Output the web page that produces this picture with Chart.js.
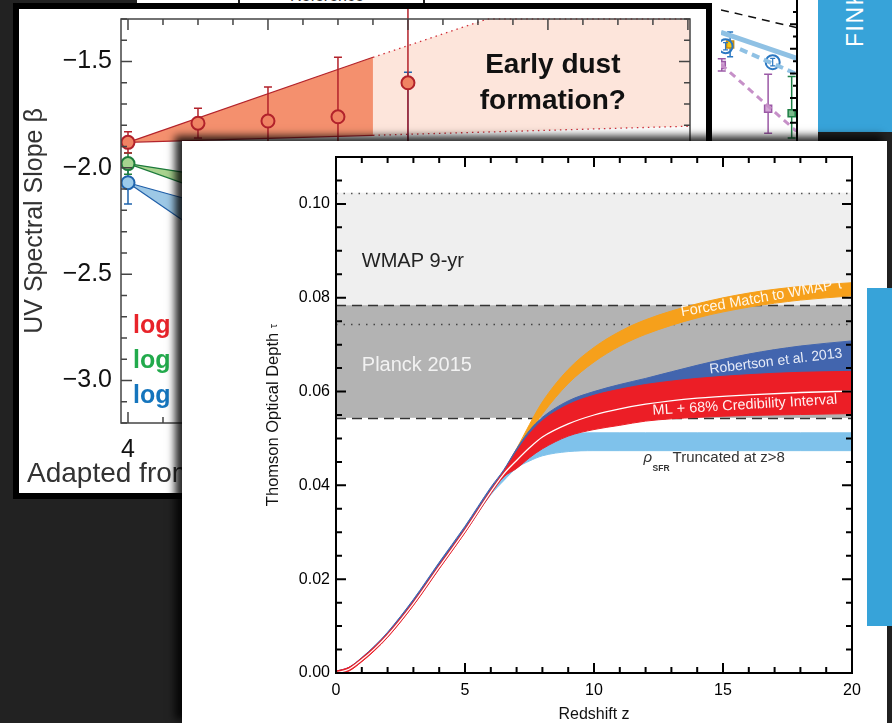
<!DOCTYPE html>
<html>
<head>
<meta charset="utf-8">
<script src="https://cdn.jsdelivr.net/npm/chart.js@4.4.0/dist/chart.umd.min.js"></script>
<style>
  html, body { margin: 0; padding: 0; }
  body { width: 892px; height: 723px; background: #222; position: relative; overflow: hidden;
         font-family: 'Liberation Sans', Arial, Helvetica, sans-serif; }
  .abs { position: absolute; }
  #strip { left: 137px; top: 0; width: 575px; height: 4px; background: #fff; overflow: hidden; }
  #strip i { position: absolute; top: 0; width: 2px; height: 4px; background: #222; }
  #strip b { position: absolute; top: -13px; font: 16px 'Liberation Sans', Arial, sans-serif; color: #333; }
  #side { left: 712px; top: 0; background: #fff; }
  #back { left: 13px; top: 3px; width: 699px; height: 496px; box-sizing: border-box;
          border: 6px solid #000; background: #fff; }
  #back canvas { position: absolute; left: 0; top: 0; }
  #fink { left: 818px; top: 0; width: 74px; height: 132px; background: #37a3d9; overflow: hidden; }
  #fink span { position: absolute; left: 25px; top: 47px; transform: rotate(-90deg); transform-origin: left top;
               font-size: 23px; line-height: 24px; color: #fff; letter-spacing: 1.5px; white-space: nowrap; }
  #front { left: 182px; top: 141px; width: 705px; height: 582px; background: #fff;
           box-shadow: -6px -4px 8px 1px rgba(0,0,0,0.85); }
  #front canvas { position: absolute; left: 0; top: 0; }
  #tab { left: 867px; top: 288px; width: 25px; height: 338px; background: #37a3d9; }
</style>
</head>
<body>
<div id="strip" class="abs"><i style="left:101px"></i><i style="left:286px"></i><b style="left:153px">Reference</b></div>
<canvas id="side" class="abs" width="106" height="141"></canvas>
<div id="back" class="abs"><canvas id="slope" width="687" height="484"></canvas></div>
<div id="fink" class="abs"><span>FINKELSTEIN</span></div>
<div id="front" class="abs"><canvas id="tau" width="705" height="582"></canvas></div>
<div id="tab" class="abs"></div>

<script>
const FONT = "'Liberation Sans', Arial, Helvetica, sans-serif";
Chart.defaults.font.family = FONT;

/* ════════════════════════════════════════════════
   OPTICAL DEPTH  tau(z)
════════════════════════════════════════════════ */
const zGrid         = [0, 0.5, 1, 1.5, 2, 3, 4, 5, 6, 6.5, 7, 7.5, 8, 9, 10, 11, 12, 14, 16, 18, 20];
const tauML         = [0, 0.0008, 0.0028, 0.0052, 0.0080, 0.0148, 0.0226, 0.0303, 0.0386, 0.0424, 0.0453, 0.0480, 0.0503, 0.0531, 0.0550, 0.0563, 0.0573, 0.0586, 0.0593, 0.0598, 0.0601];
const tauMLLow      = [-0.0004, 0.0004, 0.0024, 0.0048, 0.0076, 0.0144, 0.0222, 0.0299, 0.0382, 0.0418, 0.0436, 0.0459, 0.0478, 0.0505, 0.0519, 0.0528, 0.0537, 0.0545, 0.0549, 0.0551, 0.0553];
const tauMLHigh     = [0.0004, 0.0012, 0.0032, 0.0056, 0.0084, 0.0152, 0.0230, 0.0307, 0.0390, 0.0429, 0.0472, 0.0510, 0.0538, 0.0572, 0.0592, 0.0605, 0.0615, 0.0628, 0.0636, 0.0641, 0.0643];
const tauRobLow     = [0, 0.0006, 0.0026, 0.0050, 0.0078, 0.0146, 0.0224, 0.0301, 0.0384, 0.0421, 0.0442, 0.0465, 0.0484, 0.0510, 0.0525, 0.0535, 0.0543, 0.0552, 0.0558, 0.0561, 0.0563];
const tauRobHigh    = [0.0004, 0.0012, 0.0033, 0.0058, 0.0087, 0.0157, 0.0236, 0.0313, 0.0396, 0.0433, 0.0478, 0.0517, 0.0545, 0.0580, 0.0600, 0.0615, 0.0628, 0.0656, 0.0680, 0.0697, 0.0708];
const tauForcedLow  = [0, 0.0006, 0.0026, 0.0050, 0.0078, 0.0146, 0.0224, 0.0301, 0.0384, 0.0423, 0.0462, 0.0510, 0.0552, 0.0617, 0.0663, 0.0697, 0.0722, 0.0757, 0.0780, 0.0795, 0.0804];
const tauForcedHigh = [0.0002, 0.0010, 0.0030, 0.0054, 0.0082, 0.0150, 0.0228, 0.0305, 0.0390, 0.0431, 0.0478, 0.0530, 0.0578, 0.0647, 0.0694, 0.0728, 0.0753, 0.0787, 0.0810, 0.0824, 0.0832];
const tauTruncLow   = [-0.0003, 0.0005, 0.0025, 0.0049, 0.0077, 0.0145, 0.0223, 0.0300, 0.0380, 0.0410, 0.0437, 0.0452, 0.0463, 0.0472, 0.0474, 0.0474, 0.0474, 0.0474, 0.0474, 0.0474, 0.0474];
const tauTruncHigh  = [0.0003, 0.0011, 0.0031, 0.0055, 0.0083, 0.0151, 0.0229, 0.0306, 0.0388, 0.0424, 0.0455, 0.0480, 0.0498, 0.0509, 0.0512, 0.0512, 0.0512, 0.0512, 0.0512, 0.0512, 0.0512];
const wmapTau       = [0.0744, 0.1024];
const planckTau     = [0.0544, 0.0784];
const tauTicks      = [0, 0.02, 0.04, 0.06, 0.08, 0.10];
const zTicks        = [0, 5, 10, 15, 20];

/* ════════════════════════════════════════════════
   UV SLOPE (back panel)
════════════════════════════════════════════════ */
const slopeZ          = [4, 5, 6, 7, 8];
const slopeBright     = [-1.88, -1.79, -1.78, -1.76, -1.60];
const slopeBrightUp   = [0.05, 0.07, 0.16, 0.28, 0.60];
const slopeBrightDn   = [0.05, 0.07, 0.16, 0.28, 0.35];
const slopeMidZ       = [4];
const slopeMid        = [-1.98];
const slopeMidErr     = [0.05];
const slopeFaintZ     = [4, 8];
const slopeFaint      = [-2.07, -2.25];
const slopeFaintUp    = [0.10, 0.70];
const slopeFaintDn    = [0.10, 0.30];
const fitZ            = [4, 7.5];
const fitBrightUpper  = [-1.88, -1.48];
const fitBrightLower  = [-1.88, -1.847];
const fitMidUpper     = [-1.98, -2.16];
const fitMidLower     = [-1.98, -2.39];
const fitFaintUpper   = [-2.07, -2.39];
const fitFaintLower   = [-2.07, -2.86];
const dustZ           = [7.5, 12.03];
const dustUpper       = [-1.48, -0.98];
const dustLower       = [-1.847, -1.804];
const dustCapZ        = [9.14, 12.03];
const dustCap         = [-1.3, -1.3];
const slopeTicks      = [-3.0, -2.5, -2.0, -1.5];
const slopeZTicks     = [4, 6, 8, 10, 12];

/* ════════════════════════════════════════════════
   SIDE PANEL (partly hidden)
════════════════════════════════════════════════ */
const sideX        = [0, 10];
const sideGuide    = [9.17, 7.72];
const sideFit      = [7.35, 5.22];
const sideDashX    = [2.5, 10];
const sideDash     = [5.98, 3.94];
const sideModel    = [4.74, -0.74];
const sideCircleX  = [0.6, 6.8];
const sideCircle   = [6.21, 4.92];
const sideYellowX  = [1.2];
const sideYellow   = [6.36];
const sidePurpleX  = [0.1, 6.2];
const sidePurple   = [4.69, 1.13];
const sidePurpleUp = [0.5, 2.8];
const sidePurpleDn = [0.5, 2.0];
const sideGreenX   = [9.3];
const sideGreen    = [0.76];

const xy = (xs, ys) => xs.map((x, i) => ({ x, y: ys[i] }));

// axis box with inward ticks on every side
function drawFrame(chart, f) {
    const { ctx, chartArea: a, scales: { x, y } } = chart;
    const steps = (s, minor) => {
        const out = [];
        for (let i = Math.ceil(s.min / minor - 1e-6); i * minor <= s.max + 1e-9; i++) out.push(i * minor);
        return out;
    };
    const isMajor = (v, m) => Math.abs(v / m - Math.round(v / m)) < 1e-6;
    ctx.save();
    ctx.strokeStyle = f.color;
    ctx.lineWidth = f.width;
    ctx.beginPath();
    steps(x, f.xMinor).forEach(v => {
        const px = x.getPixelForValue(v);
        const len = isMajor(v, f.xMajor) ? f.major : f.minor;
        ctx.moveTo(px, a.bottom); ctx.lineTo(px, a.bottom - len);
        ctx.moveTo(px, a.top); ctx.lineTo(px, a.top + len);
    });
    steps(y, f.yMinor).forEach(v => {
        const py = y.getPixelForValue(v);
        const len = isMajor(v, f.yMajor) ? f.major : f.minor;
        ctx.moveTo(a.left, py); ctx.lineTo(a.left + len, py);
        ctx.moveTo(a.right, py); ctx.lineTo(a.right - len, py);
    });
    ctx.stroke();
    ctx.strokeRect(a.left, a.top, a.right - a.left, a.bottom - a.top);
    ctx.restore();
}

// fixed axis sizes, no extra room for overhanging tick labels
const fixWidth = w => s => { s.width = w; s.paddingTop = 0; s.paddingBottom = 0; };
const fixHeight = h => s => { s.height = h; s.paddingLeft = 0; s.paddingRight = 0; };

// vertical error bars, drawn just under each point dataset
const errorBars = {
    id: 'errorBars',
    beforeDatasetDraw(chart, { index, meta }) {
        const ds = chart.data.datasets[index];
        if (!ds.errUp) return;
        const { ctx, scales: { y } } = chart;
        const cap = ds.errCap ?? 4;
        ctx.save();
        ctx.strokeStyle = ds.errColor || ds.pointBorderColor;
        ctx.lineWidth = ds.errWidth || 1.5;
        ds.data.forEach((p, i) => {
            const px = meta.data[i].x;
            const top = y.getPixelForValue(p.y + ds.errUp[i]);
            const bot = y.getPixelForValue(p.y - ds.errDn[i]);
            ctx.beginPath();
            ctx.moveTo(px, top); ctx.lineTo(px, bot);
            ctx.moveTo(px - cap, top); ctx.lineTo(px + cap, top);
            ctx.moveTo(px - cap, bot); ctx.lineTo(px + cap, bot);
            ctx.stroke();
        });
        ctx.restore();
    }
};

const quiet = { legend: { display: false }, tooltip: { enabled: false } };

/* ── side panel ── */
new Chart(document.getElementById('side'), {
    type: 'line',
    data: {
        datasets: [
            { data: xy(sideX, sideGuide), borderColor: '#111', borderWidth: 1.5, borderDash: [8, 6], pointRadius: 0 },
            { data: xy(sideX, sideFit), borderColor: '#8fc1e4', borderWidth: 5, pointRadius: 0 },
            { data: xy(sideDashX, sideDash), borderColor: '#8fc1e4', borderWidth: 4, borderDash: [8, 5], pointRadius: 0 },
            { data: xy(sideX, sideModel), borderColor: '#c690c8', borderWidth: 3, borderDash: [7, 5], pointRadius: 0 },
            { data: xy(sideCircleX, sideCircle), showLine: false, pointRadius: 7, pointBorderWidth: 2,
              pointBackgroundColor: 'rgba(255,255,255,0)', pointBorderColor: '#2b78c2',
              errUp: [0.3, 0.3], errDn: [0.3, 0.3], errCap: 2.5, errColor: '#2b78c2', errWidth: 1.2 },
            { data: xy(sideYellowX, sideYellow), showLine: false, pointStyle: 'rect', pointRadius: 5, pointBorderWidth: 1.5,
              pointBackgroundColor: '#f6c70f', pointBorderColor: '#c58a10',
              errUp: [1.0], errDn: [1.0], errCap: 3, errColor: '#2b78c2' },
            { data: xy(sidePurpleX, sidePurple), showLine: false, pointStyle: 'rect', pointRadius: 5, pointBorderWidth: 1.5,
              pointBackgroundColor: '#d3a6d6', pointBorderColor: '#9b59a6',
              errUp: sidePurpleUp, errDn: sidePurpleDn, errCap: 4, errColor: '#9b59a6' },
            { data: xy(sideGreenX, sideGreen), showLine: false, pointStyle: 'rect', pointRadius: 5, pointBorderWidth: 1.5,
              pointBackgroundColor: '#79b98a', pointBorderColor: '#1d7f45',
              errUp: [3.0], errDn: [2.0], errCap: 4, errColor: '#1d7f45' }
        ]
    },
    options: {
        responsive: false, animation: false, events: [], devicePixelRatio: 1,
        layout: { padding: { right: 21, bottom: 9 } },
        plugins: quiet,
        scales: {
            x: { type: 'linear', min: 0, max: 10, display: false },
            y: { type: 'linear', min: -0.76, max: 9.24, display: false }
        }
    },
    plugins: [errorBars, {
        id: 'sideAxis',
        afterDraw(chart) {
            const { ctx, chartArea: a, scales: { y } } = chart;
            ctx.save();
            ctx.strokeStyle = '#000';
            ctx.lineWidth = 2;
            ctx.beginPath();
            ctx.moveTo(a.right, 0); ctx.lineTo(a.right, chart.height);
            for (let v = 0; v <= 9; v++) {
                const py = y.getPixelForValue(v);
                ctx.moveTo(a.right, py); ctx.lineTo(a.right - (v % 2 ? 4 : 7), py);
            }
            ctx.stroke();
            ctx.restore();
        }
    }]
});

/* ── UV slope panel ── */
const wedge = (lo, hi, line, fillCol, order) => [
    { data: xy(fitZ, lo), borderColor: line, borderWidth: 1.2, pointRadius: 0, fill: false, order },
    { data: xy(fitZ, hi), borderColor: line, borderWidth: 1.2, pointRadius: 0, fill: '-1', backgroundColor: fillCol, order }
];

new Chart(document.getElementById('slope'), {
    type: 'line',
    data: {
        datasets: [
            { data: xy(dustZ, dustLower), borderColor: '#d0303a', borderWidth: 1.3, borderDash: [1.5, 4], pointRadius: 0, order: 9 },
            { data: xy(dustZ, dustUpper), borderColor: '#d0303a', borderWidth: 1.3, borderDash: [1.5, 4], pointRadius: 0,
              fill: '-1', backgroundColor: '#fde5db', order: 9 },
            { data: xy(dustCapZ, dustCap), borderColor: '#d0303a', borderWidth: 1.3, borderDash: [1.5, 4], pointRadius: 0, clip: 4, order: 8 },
            ...wedge(fitBrightLower, fitBrightUpper, '#b3242c', '#f4906e', 7),
            ...wedge(fitMidLower, fitMidUpper, '#1c7a3b', '#a9d38f', 6),
            ...wedge(fitFaintLower, fitFaintUpper, '#1f5ea8', '#9dc8e6', 5),
            { data: xy(slopeFaintZ, slopeFaint), showLine: false, pointRadius: 6.5, pointBorderWidth: 2,
              pointBackgroundColor: '#9ccbea', pointBorderColor: '#1f64ad',
              errUp: slopeFaintUp, errDn: slopeFaintDn, errCap: 4, order: 3 },
            { data: xy(slopeMidZ, slopeMid), showLine: false, pointRadius: 6.5, pointBorderWidth: 2,
              pointBackgroundColor: '#a6d490', pointBorderColor: '#1e7d3c',
              errUp: slopeMidErr, errDn: slopeMidErr, errCap: 4, order: 2 },
            { data: xy(slopeZ, slopeBright), showLine: false, pointRadius: 6.5, pointBorderWidth: 2,
              pointBackgroundColor: '#f08363', pointBorderColor: '#b2222b',
              errUp: slopeBrightUp, errDn: slopeBrightDn, errCap: 4, order: 1 }
        ]
    },
    options: {
        responsive: false, animation: false, events: [], devicePixelRatio: 1,
        layout: { padding: { top: 10, right: 16, left: 0, bottom: 0 } },
        plugins: quiet,
        scales: {
            x: {
                type: 'linear', min: 3.9, max: 12.03,
                afterFit: fixHeight(70),
                afterBuildTicks: s => { s.ticks = slopeZTicks.map(value => ({ value })); },
                grid: { display: false, drawTicks: false }, border: { display: false },
                ticks: { padding: 12, color: '#111', font: { size: 25 } }
            },
            y: {
                type: 'linear', min: -3.2, max: -1.3,
                afterFit: fixWidth(102),
                afterBuildTicks: s => { s.ticks = slopeTicks.map(value => ({ value })); },
                grid: { display: false, drawTicks: false }, border: { display: false },
                ticks: { padding: 9, color: '#111', font: { size: 25 },
                         callback: v => (v < 0 ? '\u2212' : '') + Math.abs(v).toFixed(1) }
            }
        }
    },
    plugins: [errorBars, {
        id: 'slopeDecor',
        afterDraw(chart) {
            const { ctx, chartArea: a, scales: { x, y } } = chart;
            drawFrame(chart, { color: '#444', width: 1.5, xMinor: 0.5, xMajor: 2, yMinor: 0.1, yMajor: 0.5, major: 11, minor: 6 });
            ctx.save();
            // axis title
            ctx.translate(a.left - 86, (a.top + a.bottom) / 2);
            ctx.rotate(-Math.PI / 2);
            ctx.font = `25px ${FONT}`;
            ctx.fillStyle = '#333';
            ctx.textAlign = 'center';
            ctx.textBaseline = 'middle';
            ctx.fillText('UV Spectral Slope \u03B2', 0, 0);
            ctx.restore();

            ctx.save();
            ctx.font = `bold 25px ${FONT}`;
            ctx.textAlign = 'left';
            ctx.textBaseline = 'alphabetic';
            [['#e8232a', 314], ['#22aa4c', 349], ['#1575bd', 384]].forEach(([c, dy]) => {
                ctx.fillStyle = c;
                ctx.fillText('log', a.left + 12, a.top + dy);
            });
            ctx.font = `bold 28px ${FONT}`;
            ctx.fillStyle = '#111';
            ctx.textAlign = 'center';
            ctx.textBaseline = 'middle';
            ctx.fillText('Early dust', x.getPixelForValue(10.07), y.getPixelForValue(-1.52));
            ctx.fillText('formation?', x.getPixelForValue(10.07), y.getPixelForValue(-1.685));
            ctx.font = `28px ${FONT}`;
            ctx.fillStyle = '#333';
            ctx.textAlign = 'left';
            ctx.textBaseline = 'alphabetic';
            ctx.fillText('Adapted from', 8, 473);
            ctx.restore();
        }
    }]
});

/* ── optical depth panel ── */
const zPts = arr => zGrid.map((z, i) => ({ x: z, y: arr[i] }));
const band = (lo, hi, color, order) => [
    { data: zPts(lo), borderColor: color, borderWidth: 1, fill: false, order },
    { data: zPts(hi), borderColor: color, borderWidth: 1, backgroundColor: color, fill: '-1', order }
];

const tauBackdrop = {
    id: 'tauBackdrop',
    beforeDatasetsDraw(chart) {
        const { ctx, chartArea: a, scales: { y } } = chart;
        const fillBand = ([lo, hi], col) => {
            const t = y.getPixelForValue(hi), b = y.getPixelForValue(lo);
            ctx.fillStyle = col;
            ctx.fillRect(a.left, t, a.right - a.left, b - t);
        };
        const hline = (v, dash, col, w) => {
            const py = Math.round(y.getPixelForValue(v)) + 0.5;
            ctx.beginPath();
            ctx.setLineDash(dash);
            ctx.strokeStyle = col;
            ctx.lineWidth = w;
            ctx.moveTo(a.left, py); ctx.lineTo(a.right, py);
            ctx.stroke();
        };
        ctx.save();
        fillBand(wmapTau, '#efefef');
        fillBand(planckTau, '#b3b3b3');
        hline(wmapTau[1], [1.5, 6], '#555', 1.3);
        hline(wmapTau[0], [1.5, 6], '#444', 1.3);
        hline(planckTau[1], [10, 6], '#333', 1.6);
        hline(planckTau[0], [10, 6], '#333', 1.6);
        ctx.restore();
    }
};

const tauDecor = {
    id: 'tauDecor',
    afterDraw(chart) {
        const { ctx, chartArea: a, scales: { x, y } } = chart;
        drawFrame(chart, { color: '#000', width: 2, xMinor: 1, xMajor: 5, yMinor: 0.005, yMajor: 0.02, major: 10, minor: 6 });

        const at = (z, t) => [x.getPixelForValue(z), y.getPixelForValue(t)];
        const rotated = (text, z, t, deg, size, color) => {
            const [px, py] = at(z, t);
            ctx.save();
            ctx.translate(px, py);
            ctx.rotate(deg * Math.PI / 180);
            ctx.font = `${size}px ${FONT}`;
            ctx.fillStyle = color;
            ctx.textAlign = 'center';
            ctx.textBaseline = 'middle';
            ctx.fillText(text, 0, 0);
            ctx.restore();
        };
        rotated('Forced Match to WMAP \u03C4', 16.5, 0.0799, -10, 14.5, '#fff7ea');
        rotated('Robertson et al. 2013', 17.05, 0.0664, -7, 14, '#e6ebf7');
        rotated('ML + 68% Credibility Interval', 15.85, 0.0571, -3.5, 14.5, '#fff0f0');

        ctx.save();
        ctx.textBaseline = 'middle';
        ctx.textAlign = 'left';
        ctx.font = `20px ${FONT}`;
        ctx.fillStyle = '#222';
        ctx.fillText('WMAP 9-yr', ...at(1.0, 0.0878));
        ctx.fillStyle = '#f2f2f2';
        ctx.fillText('Planck 2015', ...at(1.0, 0.0656));

        // rho_SFR truncated caption
        const [tx, ty] = at(11.92, 0.0450);
        ctx.textBaseline = 'alphabetic';
        ctx.fillStyle = '#333';
        ctx.font = `italic 15px ${FONT}`;
        ctx.fillText('\u03C1', tx, ty);
        ctx.font = `bold 8.5px ${FONT}`;
        ctx.fillText('SFR', tx + 9, ty + 9);
        ctx.font = `15px ${FONT}`;
        ctx.fillText('Truncated at z>8', tx + 29, ty);

        // axis titles
        ctx.fillStyle = '#111';
        ctx.font = `16px ${FONT}`;
        ctx.textAlign = 'center';
        ctx.fillText('Redshift z', (a.left + a.right) / 2, a.bottom + 46);

        ctx.translate(a.left - 58, (a.top + a.bottom) / 2);
        ctx.rotate(-Math.PI / 2);
        const main = 'Thomson Optical Depth ';
        ctx.font = `16.5px ${FONT}`;
        const w1 = ctx.measureText(main).width;
        ctx.font = `11px ${FONT}`;
        const w2 = ctx.measureText('\u03C4').width;
        ctx.textAlign = 'left';
        ctx.font = `16.5px ${FONT}`;
        ctx.fillText(main, -(w1 + w2) / 2, 0);
        ctx.font = `11px ${FONT}`;
        ctx.fillText('\u03C4', -(w1 + w2) / 2 + w1, -1);
        ctx.restore();
    }
};

new Chart(document.getElementById('tau'), {
    type: 'line',
    data: {
        datasets: [
            ...band(tauTruncLow, tauTruncHigh, '#7fc2eb', 6),
            ...band(tauForcedLow, tauForcedHigh, '#f6a01b', 5),
            ...band(tauRobLow, tauRobHigh, '#4265ae', 4),
            ...band(tauMLLow, tauMLHigh, '#ec1e26', 3),
            { data: zPts(tauML), borderColor: '#ffffff', borderWidth: 1.3, fill: false, order: 1 }
        ]
    },
    options: {
        responsive: false, animation: false, events: [], devicePixelRatio: 1,
        layout: { padding: { top: 16, right: 35, left: 0, bottom: 0 } },
        elements: { point: { radius: 0 }, line: { cubicInterpolationMode: 'monotone' } },
        plugins: quiet,
        scales: {
            x: {
                type: 'linear', min: 0, max: 20,
                afterFit: fixHeight(50),
                afterBuildTicks: s => { s.ticks = zTicks.map(value => ({ value })); },
                grid: { display: false, drawTicks: false }, border: { display: false },
                ticks: { padding: 8, color: '#000', font: { size: 16 } }
            },
            y: {
                type: 'linear', min: 0, max: 0.11,
                afterFit: fixWidth(154),
                afterBuildTicks: s => { s.ticks = tauTicks.map(value => ({ value })); },
                grid: { display: false, drawTicks: false }, border: { display: false },
                ticks: { padding: 6, color: '#000', font: { size: 16 }, callback: v => v.toFixed(2) }
            }
        }
    },
    plugins: [tauBackdrop, tauDecor]
});
</script>
</body>
</html>
